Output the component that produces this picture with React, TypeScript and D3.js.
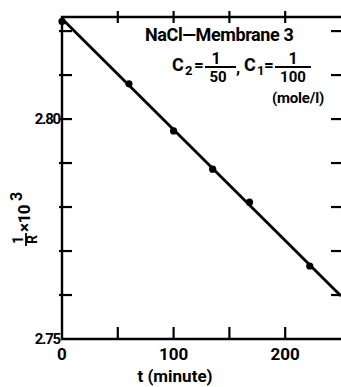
import React, { useEffect, useRef } from 'react';
import * as d3 from 'd3';

// measured points (t in minutes, 1/R x 10^3)
const times = [0, 60, 100, 135, 168, 222];
const values = [2.8222, 2.808, 2.7973, 2.7886, 2.7811, 2.7666];

// fitted straight line
const fitT = [0, 250];
const fitV = [2.8228, 2.7598];

const xTicks = [0, 50, 100, 150, 200, 250];
const xLabels = [0, 100, 200];
const yTicks = [2.75, 2.76, 2.77, 2.78, 2.79, 2.8, 2.81, 2.82];
const yLabels = [2.75, 2.8];

const FONT = 'Roboto, "DejaVu Sans", sans-serif';

export default function App() {
  const svgRef = useRef<SVGSVGElement>(null);

  useEffect(() => {
    if (!svgRef.current) return;
    const svg = d3.select(svgRef.current);
    svg.selectAll('*').remove();

    const left = 62, right = 341, top = 17, bottom = 339;
    const x = d3.scaleLinear().domain([0, 250]).range([left, right]);
    const y = d3.scaleLinear().domain([2.75, 2.8232]).range([bottom, top]);

    const g = svg.append('g');

    // frame (right side is cut off in the original)
    g.append('path')
      .attr('d', `M${right + 2},${top} H${left} V${bottom} H${right + 2}`)
      .attr('fill', 'none')
      .attr('stroke', '#000')
      .attr('stroke-width', 2.4);

    // x ticks bottom and top
    xTicks.forEach(t => {
      if (t === 0 || t === 250) return;
      g.append('line')
        .attr('x1', x(t)).attr('x2', x(t))
        .attr('y1', bottom).attr('y2', bottom - 12)
        .attr('stroke', '#000').attr('stroke-width', 2.2);
      g.append('line')
        .attr('x1', x(t)).attr('x2', x(t))
        .attr('y1', top - 6).attr('y2', top + 6)
        .attr('stroke', '#000').attr('stroke-width', 2.2);
    });

    // y ticks left and right
    yTicks.forEach(v => {
      if (v === 2.75) return;
      g.append('line')
        .attr('x1', left - 3).attr('x2', left + 10)
        .attr('y1', y(v)).attr('y2', y(v))
        .attr('stroke', '#000').attr('stroke-width', 2.2);
      g.append('line')
        .attr('x1', right - 10).attr('x2', right)
        .attr('y1', y(v)).attr('y2', y(v))
        .attr('stroke', '#000').attr('stroke-width', 2.2);
    });

    // x labels
    g.selectAll('.xl')
      .data(xLabels)
      .join('text')
      .attr('x', d => x(d))
      .attr('y', 360)
      .attr('text-anchor', 'middle')
      .attr('font-family', FONT)
      .attr('font-weight', 'bold')
      .attr('font-size', 17)
      .text(d => String(d));

    // y labels
    g.selectAll('.yl')
      .data(yLabels)
      .join('text')
      .attr('x', left - 2)
      .attr('y', d => y(d) + 5)
      .attr('text-anchor', 'end')
      .attr('font-family', FONT)
      .attr('font-weight', 'bold')
      .attr('font-size', 15)
      .attr('letter-spacing', -1.2)
      .text(d => d.toFixed(2));

    // x title
    g.append('text')
      .attr('x', 175)
      .attr('y', 382)
      .attr('text-anchor', 'middle')
      .attr('font-family', FONT)
      .attr('font-weight', 'bold')
      .attr('font-size', 17)
      .text('t (minute)');

    // y title, rotated: 1/R x 10^3
    const yt = g.append('g')
      .attr('transform', 'translate(34,246) rotate(-90)')
      .attr('font-family', FONT)
      .attr('font-weight', 'bold');
    yt.append('text').attr('x', 6).attr('y', -11).attr('text-anchor', 'middle')
      .attr('font-size', 14).text('1');
    yt.append('line').attr('x1', 0).attr('x2', 13).attr('y1', -8).attr('y2', -8)
      .attr('stroke', '#000').attr('stroke-width', 1.8);
    yt.append('text').attr('x', 6.5).attr('y', 3).attr('text-anchor', 'middle')
      .attr('font-size', 14).text('R');
    yt.append('text').attr('x', 14).attr('y', -4)
      .attr('font-size', 17).attr('letter-spacing', -0.5).text('×10');
    yt.append('text').attr('x', 45).attr('y', -12)
      .attr('font-size', 16).text('3');

    // fitted line
    const line = d3.line<number>()
      .x((_, i) => x(fitT[i]))
      .y(d => y(d));
    g.append('path')
      .datum(fitV)
      .attr('d', line)
      .attr('fill', 'none')
      .attr('stroke', '#000')
      .attr('stroke-width', 2.8);

    // points
    g.selectAll('.pt')
      .data(times)
      .join('circle')
      .attr('cx', d => x(d))
      .attr('cy', (_, i) => y(values[i]))
      .attr('r', 3.6)
      .attr('fill', '#000');

    // annotation
    const ann = g.append('g')
      .attr('font-family', FONT)
      .attr('font-weight', 'bold')
      .attr('fill', '#000');
    ann.append('text').attr('x', 145).attr('y', 41)
      .attr('font-size', 18).attr('letter-spacing', -0.4).text('NaCl—Membrane 3');

    const row = ann.append('g').attr('transform', 'translate(0,71)');
    row.append('text').attr('x', 172).attr('y', 0).attr('font-size', 18).text('C');
    row.append('text').attr('x', 185).attr('y', 4).attr('font-size', 13).text('2');
    row.append('text').attr('x', 194).attr('y', 0).attr('font-size', 17).text('=');
    row.append('text').attr('x', 216).attr('y', -7).attr('text-anchor', 'middle').attr('font-size', 16).text('1');
    row.append('line').attr('x1', 205).attr('x2', 236).attr('y1', -4).attr('y2', -4)
      .attr('stroke', '#000').attr('stroke-width', 2);
    row.append('text').attr('x', 218).attr('y', 11).attr('text-anchor', 'middle').attr('font-size', 15).text('50');
    row.append('text').attr('x', 236).attr('y', 2).attr('font-size', 17).text(',');
    row.append('text').attr('x', 244).attr('y', 0).attr('font-size', 18).text('C');
    row.append('text').attr('x', 257).attr('y', 4).attr('font-size', 13).text('1');
    row.append('text').attr('x', 264).attr('y', 0).attr('font-size', 17).text('=');
    row.append('text').attr('x', 293).attr('y', -7).attr('text-anchor', 'middle').attr('font-size', 16).text('1');
    row.append('line').attr('x1', 275).attr('x2', 311).attr('y1', -4).attr('y2', -4)
      .attr('stroke', '#000').attr('stroke-width', 2);
    row.append('text').attr('x', 293).attr('y', 11).attr('text-anchor', 'middle').attr('font-size', 15).text('100');

    ann.append('text').attr('x', 272).attr('y', 103)
      .attr('font-size', 15).attr('letter-spacing', -0.2).text('(mole/l)');
  }, []);

  return (
    <svg
      ref={svgRef}
      width={341}
      height={387}
      style={{ position: 'absolute', left: 0, top: 0, background: '#fff' }}
    />
  );
}
